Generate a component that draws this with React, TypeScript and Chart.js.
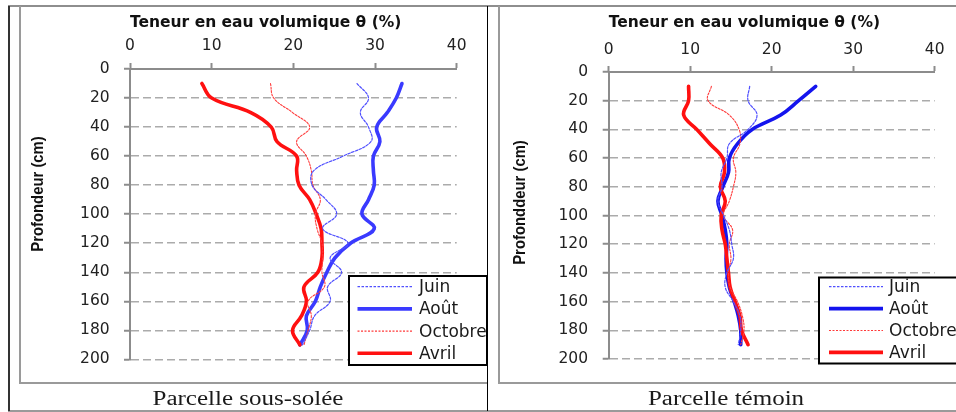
import React, { useEffect, useRef } from "react";
import { Chart, registerables } from "chart.js";

Chart.register(...registerables);

// ---------- data ----------
const depths = [10, 20, 30, 40, 50, 60, 70, 80, 90, 100, 110, 120, 130, 140, 150, 160, 170, 180, 190];
const seriesLabels = ["Juin", "Août", "Octobre", "Avril"];
const xTitleText = "Teneur en eau volumique θ (%)";

// Parcelle sous-solée
const juinSousSolee = [27.8, 29.2, 28.2, 29.2, 29.5, 26.1, 22.5, 22.3, 24.0, 25.3, 23.6, 26.7, 24.5, 25.9, 24.2, 24.5, 22.6, 22.0, 21.1];
const aoutSousSolee = [33.3, 32.6, 31.5, 30.2, 30.6, 29.8, 29.8, 29.9, 29.2, 28.4, 29.9, 27.0, 25.1, 24.1, 23.3, 22.7, 21.6, 21.7, 20.8];
const octobreSousSolee = [17.2, 17.6, 19.9, 22.0, 20.4, 21.6, 22.2, 22.4, 23.3, 22.7, 22.9, 23.5, 23.6, 23.5, 23.8, 21.8, 22.2, 21.8, 21.3];
const avrilSousSolee = [8.8, 10.0, 14.8, 17.3, 18.0, 20.4, 20.4, 20.7, 22.0, 22.8, 23.4, 23.5, 23.5, 23.0, 21.3, 21.6, 21.0, 19.9, 20.8];

// Parcelle témoin
const juinTemoin = [17.3, 17.1, 18.2, 17.1, 14.8, 14.5, 13.8, 13.9, 13.4, 14.1, 14.8, 15.1, 15.3, 14.5, 14.3, 15.3, 16.1, 16.2, 15.9];
const aoutTemoin = [25.4, 23.3, 21.1, 17.6, 15.8, 14.8, 14.7, 14.0, 13.4, 13.9, 14.3, 14.5, 14.4, 14.5, 14.8, 15.4, 15.9, 16.2, 16.2];
const octobreTemoin = [12.6, 12.2, 14.8, 16.0, 16.1, 15.3, 15.6, 15.3, 14.8, 14.1, 15.2, 14.8, 15.0, 14.7, 14.9, 15.8, 16.4, 16.6, 16.2];
const avrilTemoin = [9.8, 9.8, 9.2, 10.8, 12.4, 14.0, 14.2, 13.7, 14.3, 13.8, 13.9, 14.3, 14.5, 14.7, 14.9, 15.5, 16.1, 16.3, 17.1];

const xMin = 0, xMax = 40, xStep = 10;
const yMin = 0, yMax = 200, yStep = 20;

// ---------- plugins ----------
const legendBoxPlugin = {
  id: "legendBox",
  afterDraw(chart: any, _args: any, opts: any) {
    const ctx = chart.ctx as CanvasRenderingContext2D;
    ctx.save();
    ctx.fillStyle = "#ffffff";
    ctx.fillRect(opts.x, opts.y, opts.w, opts.h);
    ctx.lineWidth = 2;
    ctx.strokeStyle = "#000000";
    ctx.setLineDash([]);
    ctx.strokeRect(opts.x, opts.y, opts.w, opts.h);
    ctx.beginPath();
    ctx.rect(opts.x + 1, opts.y + 1, opts.w - 2, opts.h - 2);
    ctx.clip();
    chart.data.datasets.forEach((ds: any, i: number) => {
      const y = opts.rowY + i * opts.rowGap;
      ctx.setLineDash(ds.borderDash || []);
      ctx.strokeStyle = ds.borderColor;
      ctx.lineWidth = ds.borderWidth;
      ctx.beginPath();
      ctx.moveTo(opts.lineX1, y);
      ctx.lineTo(opts.lineX2, y);
      ctx.stroke();
      ctx.setLineDash([]);
      ctx.fillStyle = "#1a1a1a";
      ctx.font = '17px "DejaVu Sans"';
      ctx.textAlign = "left";
      ctx.textBaseline = "middle";
      ctx.fillText(ds.label, opts.textX, y + 1);
    });
    ctx.restore();
  },
};

const yTitlePlugin = {
  id: "yTitle",
  afterDraw(chart: any, _args: any, opts: any) {
    const ctx = chart.ctx as CanvasRenderingContext2D;
    ctx.save();
    ctx.translate(opts.x, opts.y);
    ctx.rotate(-Math.PI / 2);
    ctx.scale(0.9, 1);
    ctx.font = 'bold 16.5px "Liberation Sans"';
    ctx.fillStyle = "#111111";
    ctx.textAlign = "center";
    ctx.textBaseline = "middle";
    ctx.fillText(opts.text, 0, 0);
    ctx.restore();
  },
};

type PanelSpec = {
  values: number[][];
  aoutColor: string;
  yTitle: string;
  yTitlePos: { x: number; y: number };
  axisWidth: number;
  axisHeight: number;
  padRight: number;
  padBottom: number;
  xTickPad: number;
  yTickPad: number;
  legend: any;
};

function buildConfig(spec: PanelSpec): any {
  const colors = ["#5050ff", spec.aoutColor, "#ff3b3b", "#ff1010"];
  const widths = [1.2, 3.6, 1.1, 3.6];
  const dashes = [[2.5, 1.5], [], [2, 1.5], []];
  const orders = [0, 3, 1, 2];
  const datasets = seriesLabels.map((label, s) => ({
    label,
    data: depths.map((d, i) => ({ x: spec.values[s][i], y: d })),
    borderColor: colors[s],
    backgroundColor: colors[s],
    borderWidth: widths[s],
    borderDash: dashes[s],
    pointRadius: 0,
    showLine: true,
    tension: 0.4,
    fill: false,
    order: orders[s],
    borderCapStyle: "round",
    borderJoinStyle: "round",
  }));
  const tickFont = { family: "DejaVu Sans", size: 15.5 };
  return {
    type: "scatter",
    data: { datasets },
    plugins: [legendBoxPlugin, yTitlePlugin],
    options: {
      animation: false,
      responsive: false,
      events: [],
      layout: { padding: { left: 0, top: 0, right: spec.padRight, bottom: spec.padBottom } },
      plugins: {
        legend: { display: false },
        tooltip: { enabled: false },
        legendBox: spec.legend,
        yTitle: { text: spec.yTitle, x: spec.yTitlePos.x, y: spec.yTitlePos.y },
      },
      scales: {
        x: {
          type: "linear",
          position: "top",
          min: xMin,
          max: xMax,
          ticks: { stepSize: xStep, padding: spec.xTickPad, font: tickFont, color: "#222222" },
          grid: { drawOnChartArea: false, drawTicks: true, tickLength: 6, tickColor: "#8c8c8c", tickWidth: 2 },
          border: { display: true, color: "#8c8c8c", width: 2 },
          title: {
            display: true,
            text: xTitleText,
            align: "start",
            color: "#111111",
            font: { family: "DejaVu Sans", size: 15.5, weight: "bold" },
            padding: { top: 7.4, bottom: 0 },
          },
          afterFit: (scale: any) => {
            scale.height = spec.axisHeight;
          },
        },
        y: {
          type: "linear",
          reverse: true,
          min: yMin,
          max: yMax,
          ticks: { stepSize: yStep, padding: spec.yTickPad, font: tickFont, color: "#222222" },
          grid: { drawOnChartArea: true, drawTicks: true, tickLength: 6, color: "#ababab", lineWidth: 1.5, tickColor: "#8c8c8c", tickWidth: 2 },
          border: { display: true, color: "#8c8c8c", width: 2, dash: [8, 4] },
          title: { display: false },
          afterFit: (scale: any) => {
            scale.width = spec.axisWidth;
          },
        },
      },
    },
  };
}

function Panel(props: { spec: PanelSpec; width: number; height: number }) {
  const ref = useRef<HTMLCanvasElement | null>(null);
  useEffect(() => {
    if (!ref.current) return;
    const chart = new Chart(ref.current, buildConfig(props.spec));
    return () => chart.destroy();
  }, []);
  return (
    <canvas
      ref={ref}
      width={props.width}
      height={props.height}
      style={{ width: props.width, height: props.height, display: "block" }}
    />
  );
}

const leftSpec: PanelSpec = {
  values: [juinSousSolee, aoutSousSolee, octobreSousSolee, avrilSousSolee],
  aoutColor: "#3a3aff",
  yTitle: "Profondeur (cm)",
  yTitlePos: { x: 19, y: 188 },
  axisWidth: 111,
  axisHeight: 63,
  padRight: 30.3,
  padBottom: 19.7,
  xTickPad: 7.3,
  yTickPad: 14.3,
  legend: { x: 330, y: 270, w: 138, h: 89, rowY: 280.7, rowGap: 22.2, lineX1: 338.5, lineX2: 393, textX: 400 },
};

const rightSpec: PanelSpec = {
  values: [juinTemoin, aoutTemoin, octobreTemoin, avrilTemoin],
  aoutColor: "#1414ee",
  yTitle: "Profonddeur (cm)",
  yTitlePos: { x: 22.5, y: 196.5 },
  axisWidth: 110.7,
  axisHeight: 66,
  padRight: 21.3,
  padBottom: 19.7,
  xTickPad: 7,
  yTickPad: 14.7,
  legend: { x: 321, y: 271.5, w: 140, h: 86, rowY: 280.7, rowGap: 21.9, lineX1: 331, lineX2: 385, textX: 391 },
};

const line = (s: React.CSSProperties): React.CSSProperties => ({ position: "absolute", ...s });

export default function App() {
  return (
    <div
      style={{
        position: "absolute",
        left: 0,
        top: 0,
        width: 956,
        height: 412,
        background: "#ffffff",
        overflow: "hidden",
      }}
    >
      <div style={{ position: "absolute", left: 19, top: 6 }}>
        <Panel spec={leftSpec} width={468} height={377} />
      </div>
      <div style={{ position: "absolute", left: 498, top: 6 }}>
        <Panel spec={rightSpec} width={458} height={377} />
      </div>

      {/* frames */}
      <div style={line({ left: 8, top: 5, width: 948, height: 2, background: "#8e8e8e" })} />
      <div style={line({ left: 8, top: 410, width: 948, height: 2, background: "#9a9a9a" })} />
      <div style={line({ left: 8, top: 6, width: 1.5, height: 405, background: "#333333" })} />
      <div style={line({ left: 18.5, top: 6, width: 2, height: 378, background: "#9a9a9a" })} />
      <div style={line({ left: 19, top: 382, width: 468, height: 2, background: "#9a9a9a" })} />
      <div style={line({ left: 487, top: 6, width: 1.2, height: 405, background: "#000000" })} />
      <div style={line({ left: 497.5, top: 6, width: 2, height: 378, background: "#9a9a9a" })} />
      <div style={line({ left: 498, top: 382, width: 458, height: 2, background: "#9a9a9a" })} />

      {/* panel captions */}
      <div
        style={{
          position: "absolute",
          left: 247.5,
          top: 398,
          transform: "translate(-50%, -50%) scaleX(1.25)",
          fontFamily: '"Liberation Serif", serif',
          fontSize: 20,
          color: "#1a1a1a",
          whiteSpace: "nowrap",
          lineHeight: 1,
        }}
      >
        Parcelle sous-solée
      </div>
      <div
        style={{
          position: "absolute",
          left: 726.3,
          top: 398,
          transform: "translate(-50%, -50%) scaleX(1.25)",
          fontFamily: '"Liberation Serif", serif',
          fontSize: 20,
          color: "#1a1a1a",
          whiteSpace: "nowrap",
          lineHeight: 1,
        }}
      >
        Parcelle témoin
      </div>
    </div>
  );
}
